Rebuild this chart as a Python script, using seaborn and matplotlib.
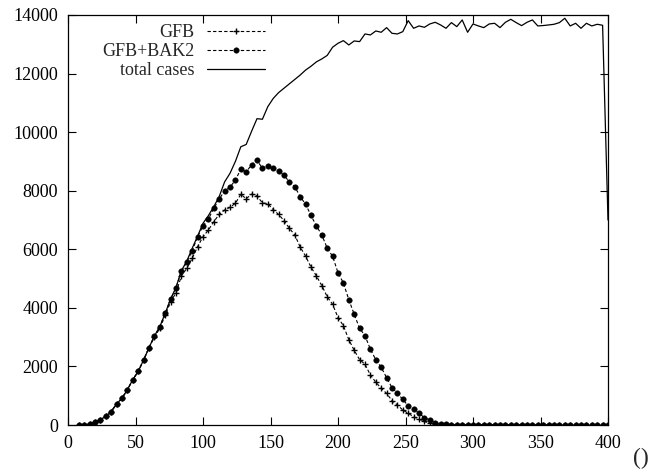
import numpy as np
import pandas as pd
import matplotlib
matplotlib.use("Agg")
import matplotlib.pyplot as plt
import seaborn as sns

# x positions (every 4 units)
x_vals = list(range(8, 401, 4))

gfb = [0, 0, 34, 92, 180, 295, 460, 717, 915, 1205, 1550, 1830, 2220, 2640,
       3000, 3300, 3750, 4200, 4518, 5088, 5350, 5692, 6089, 6430, 6659, 6942,
       7194, 7340, 7433, 7570, 7880, 7725, 7885, 7820, 7585, 7560, 7355, 7190,
       6980, 6715, 6489, 6075, 5765, 5390, 5090, 4760, 4380, 4121, 3670, 3390,
       2915, 2550, 2232, 2073, 1707, 1462, 1252, 1081, 830, 683, 512, 400, 283,
       195, 120, 60, 30, 10] + [0] * 31

gfb_bak2 = [0, 0, 34, 92, 180, 295, 460, 717, 915, 1205, 1550, 1830, 2220, 2640,
            3040, 3357, 3815, 4300, 4689, 5259, 5556, 5952, 6430, 6796, 7035,
            7400, 7707, 8002, 8118, 8367, 8730, 8640, 8890, 9040, 8766, 8860,
            8766, 8670, 8520, 8305, 8138, 7797, 7540, 7155, 6796, 6489, 6040,
            5760, 5201, 4850, 4280, 3780, 3302, 3050, 2585, 2230, 1970, 1615,
            1274, 1081, 876, 649, 535, 400, 250, 171, 80, 40, 20, 10] + [0] * 29

total_cases = [0, 0, 34, 92, 180, 295, 460, 717, 915, 1205, 1550, 1830, 2220,
               2640, 3040, 3357, 3815, 4300, 4700, 5270, 5600, 6033, 6450, 6887,
               7150, 7457, 7800, 8300, 8594, 9000, 9500, 9580, 10030, 10460,
               10440, 10870, 11150, 11350, 11500, 11650, 11800, 11950, 12120,
               12250, 12400, 12500, 12620, 12900, 13034, 13125, 12977, 13114,
               13091, 13353, 13319, 13455, 13410, 13569, 13375, 13353, 13432,
               13808, 13546, 13626, 13580, 13694, 13751, 13660, 13546, 13740,
               13603, 13831, 13410, 13694, 13626, 13569, 13694, 13717, 13569,
               13751, 13853, 13740, 13637, 13751, 13831, 13626, 13640, 13660,
               13683, 13740, 13888, 13626, 13717, 13546, 13717, 13626, 13683,
               13649, 7000]

x_ticks = [0, 50, 100, 150, 200, 250, 300, 350, 400]
y_ticks = [0, 2000, 4000, 6000, 8000, 10000, 12000, 14000]
labels = ["GFB", "GFB+BAK2", "total cases"]

sns.set_theme(style="ticks")
plt.rcParams["font.family"] = ["Liberation Serif", "DejaVu Serif"]
plt.rcParams["font.size"] = 13

fig = plt.figure(figsize=(6.64, 4.73), dpi=100)
ax = fig.add_axes([68 / 664, 1 - 425 / 473, 540 / 664, 410 / 473])

df = pd.DataFrame({"x": x_vals, "gfb": gfb, "bak2": gfb_bak2, "total": total_cases})

sns.lineplot(data=df, x="x", y="gfb", ax=ax, color="black", lw=0.8,
             linestyle=(0, (3, 2)), marker="+", markersize=5,
             markeredgewidth=1.0, markeredgecolor="black",
             label=labels[0], errorbar=None)
sns.lineplot(data=df, x="x", y="bak2", ax=ax, color="black", lw=0.8,
             linestyle=(0, (3, 2)), marker="o", markersize=4,
             markeredgewidth=0.3, markeredgecolor="black",
             label=labels[1], errorbar=None)
sns.lineplot(data=df, x="x", y="total", ax=ax, color="black", lw=0.9,
             linestyle="-", label=labels[2], errorbar=None)

ax.set_xlim(0, 400)
ax.set_ylim(0, 14000)
ax.set_xticks(x_ticks)
ax.set_yticks(y_ticks)
ax.tick_params(axis="both", direction="in", length=6, width=0.8, top=True,
               right=True, labelsize=13, colors="black", pad=7)
for s in ax.spines.values():
    s.set_linewidth(0.9)
    s.set_color("black")
ax.set_ylabel("")
ax.set_xlabel("()", fontsize=17)
ax.xaxis.set_label_coords(1.06, -0.055)

leg = ax.legend(loc="upper right", bbox_to_anchor=(0.365, 0.977), frameon=False,
                markerfirst=False, handlelength=3.2, handletextpad=0.7,
                labelspacing=0.1, borderpad=0, borderaxespad=0, fontsize=13)

fig.savefig("out.png", dpi=100)
